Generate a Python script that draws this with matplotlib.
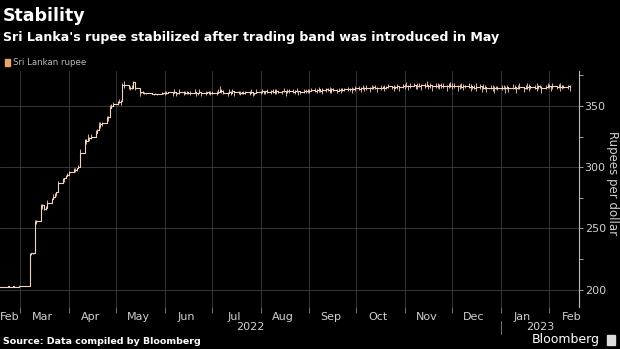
import matplotlib.dates as mdates
import matplotlib.pyplot as plt
import matplotlib.transforms as mtransforms
from matplotlib.ticker import MultipleLocator
import pandas as pd
import numpy as np

# Daily closes (rupees per dollar), business days, by month
close_by_month = {
    "2022-02": [202.4, 202.5, 202.5, 202.6, 202.5, 202.5, 202.6, 202.5, 202.6],
    "2022-03": [202.6, 202.7, 202.8, 202.9,
                229.0, 230.0, 230.0, 255.0, 256.0,
                268.0, 269.0, 266.0, 267.0, 271.0,
                274.0, 276.0, 278.0, 279.5, 287.0,
                290.0, 291.0, 293.0, 293.5],
    "2022-04": [296.0,
                297.5, 298.0, 299.0, 300.0, 312.0,
                322.0, 321.0, 324.0, 324.0, 325.0,
                328.0, 330.0, 334.0, 335.0, 336.0,
                340.0, 341.0, 348.0, 350.0, 352.0],
    "2022-05": [353.0, 353.5, 354.0, 367.0, 367.0,
                365.0, 365.0, 365.0, 369.5, 365.0,
                361.5, 361.5, 361.0, 360.5, 360.5,
                360.5, 360.0, 360.0, 360.0, 360.0,
                360.5, 360.5],
    "2022-06": [361.0, 360.5, 361.5,
                360.5, 361.5, 360.5, 361.0, 361.5,
                361.0, 360.5, 361.5, 360.5, 361.0,
                361.5, 360.5, 361.0, 361.5, 360.5,
                361.0, 361.5, 360.5, 361.0],
    "2022-07": [360.5,
                361.0, 361.5, 363.0, 362.5, 361.0,
                360.5, 361.5, 361.0, 362.0, 361.5,
                360.5, 361.0, 361.5, 360.5, 361.5,
                361.0, 361.5, 360.5, 361.0, 361.5],
    "2022-08": [361.5, 362.0, 361.5, 362.5, 361.5,
                362.0, 361.5, 362.5, 362.0, 361.5,
                362.0, 362.5, 361.5, 362.0, 362.5,
                361.5, 362.0, 362.5, 362.0, 361.5,
                362.0, 362.5, 362.0],
    "2022-09": [362.5, 363.0,
                362.5, 363.0, 363.5, 362.5, 363.0,
                363.5, 363.0, 362.5, 363.5, 363.0,
                362.5, 363.0, 363.5, 363.0, 364.0,
                363.5, 364.0, 363.5, 364.0, 364.5],
    "2022-10": [364.0, 364.5, 365.0, 364.5, 365.0,
                364.5, 365.0, 365.5, 365.0, 364.5,
                365.0, 365.5, 365.0, 365.5, 366.0,
                365.5, 365.0, 365.5, 366.0, 365.5,
                366.0],
    "2022-11": [366.0, 366.5, 366.0, 366.5,
                367.0, 366.5, 366.0, 366.5, 367.0,
                366.5, 367.0, 366.5, 367.0, 366.5,
                366.0, 366.5, 367.0, 366.5, 366.0,
                366.5, 367.0, 366.5],
    "2022-12": [366.5, 366.0,
                366.5, 366.0, 365.5, 366.0, 366.5,
                365.5, 366.0, 365.5, 365.0, 365.5,
                366.0, 365.5, 365.0, 365.5, 364.5,
                365.0, 364.5, 365.0, 364.5, 365.0],
    "2023-01": [365.0, 364.5, 365.0, 365.5, 364.5,
                365.0, 365.5, 364.5, 365.0, 365.5,
                364.5, 365.0, 365.5, 366.0, 365.5,
                365.0, 365.5, 366.0, 365.5, 365.0,
                365.5, 366.0],
    "2023-02": [366.0, 365.5, 366.0,
                365.5, 366.0, 365.5, 366.0, 365.5,
                366.0, 365.5],
}

# Intraday range above / below the close
tick_up = [0, 0, 0, 0, 0, 0, 0, 0, 0,
           0, 0, 0, 0, 1, 0, 0, 2, 1, 2, 1, 0, 1, 2, 1, 2, 1, 0, 2, 1, 0, 1, 2,
           1, 2, 1, 0, 2, 3, 1, 2, 3, 1, 2, 2, 1, 3, 2, 1, 2, 1, 3, 2, 1,
           1, 2, 1, 2, 3, 2, 1, 2, 1, 2, 1, 0, 1, 1, 0, 0, 1, 0, 1, 0, 1, 0,
           1, 2, 0, 1, 2, 1, 0, 2, 1, 2, 1, 0, 1, 2, 1, 0, 2, 1, 1, 0, 2, 1,
           2, 1, 2, 3, 1, 2, 1, 2, 1, 2, 1, 2, 1, 0, 2, 1, 1, 2, 1, 0, 2,
           1, 2, 1, 0, 2, 1, 2, 1, 2, 1, 0, 2, 1, 2, 1, 2, 1, 2, 0, 1, 2, 1, 2,
           1, 2, 2, 1, 2, 1, 2, 1, 2, 3, 1, 2, 1, 2, 1, 2, 1, 2, 1, 2, 1, 2,
           2, 1, 2, 1, 2, 1, 2, 1, 2, 1, 2, 1, 2, 1, 2, 1, 2, 1, 2, 1, 2,
           2, 3, 1, 2, 2, 1, 3, 2, 1, 2, 3, 1, 2, 1, 3, 2, 1, 2, 3, 1, 2, 3,
           2, 3, 1, 2, 3, 2, 1, 3, 2, 1, 2, 3, 2, 1, 3, 2, 1, 2, 3, 1, 2, 1,
           2, 3, 1, 2, 1, 3, 2, 1, 2, 3, 1, 2, 3, 2, 1, 2, 3, 1, 2, 1, 2, 3,
           2, 1, 3, 1, 2, 3, 1, 2, 1, 2]
tick_down = [0, 0, 0, 0, 0, 0, 0, 0, 0,
             0, 0, 0, 0, 14, 2, 1, 3, 2, 2, 3, 1, 2, 1, 2, 1, 2, 3, 1, 2, 3, 1, 0,
             2, 1, 2, 2, 1, 4, 3, 2, 1, 3, 2, 3, 2, 1, 3, 2, 1, 3, 2, 1, 2,
             2, 1, 3, 4, 2, 1, 2, 1, 3, 2, 3, 1, 0, 1, 1, 0, 0, 1, 0, 1, 0, 1,
             2, 1, 1, 2, 1, 2, 1, 2, 2, 1, 2, 1, 2, 1, 2, 2, 1, 2, 2, 1, 1, 2,
             1, 2, 1, 1, 2, 1, 2, 1, 2, 1, 3, 1, 2, 2, 1, 2, 2, 1, 2, 2, 1,
             2, 1, 2, 3, 1, 2, 1, 3, 2, 1, 2, 1, 3, 1, 2, 1, 2, 1, 3, 2, 1, 2, 1,
             2, 1, 1, 2, 2, 1, 3, 2, 1, 2, 3, 1, 2, 1, 3, 1, 2, 1, 2, 3, 1, 2,
             1, 3, 1, 2, 2, 3, 1, 2, 1, 3, 2, 1, 3, 2, 1, 2, 3, 1, 2, 3, 1,
             2, 1, 3, 2, 1, 3, 2, 1, 4, 2, 1, 3, 2, 4, 1, 2, 3, 2, 1, 4, 2, 1,
             3, 1, 4, 2, 1, 3, 2, 1, 4, 2, 1, 3, 2, 4, 1, 2, 3, 1, 2, 4, 1, 2,
             2, 1, 4, 2, 3, 1, 2, 4, 1, 2, 3, 1, 2, 4, 2, 1, 3, 2, 1, 4, 2, 1,
             1, 3, 2, 2, 1, 3, 2, 1, 2, 3]

month_labels = ["Feb", "Mar", "Apr", "May", "Jun", "Jul", "Aug", "Sep",
                "Oct", "Nov", "Dec", "Jan", "Feb"]
year_labels = ["2022", "2023"]
y_ticks = [200, 250, 300, 350]

# Build the date index month by month
dates, close = [], []
for month, vals in close_by_month.items():
    start = pd.Timestamp(month + "-01")
    if month == "2022-02":
        start = pd.Timestamp("2022-02-16")
    days = pd.bdate_range(start, start + pd.offsets.MonthEnd(0))[: len(vals)]
    dates.extend(days)
    close.extend(vals)
dates = pd.DatetimeIndex(dates)
close = np.array(close)
n = len(close)
hi = close + np.array(tick_up[:n])
lo = close - np.array(tick_down[:n])

BG = "black"
LINE = "#f2d2c0"
GRID = "#3e3e3e"
TXT = "#d0d0d0"

fig = plt.figure(figsize=(6.2, 3.49), dpi=100, facecolor=BG)
ax = fig.add_axes([0.0, 0.121, 0.934, 0.676], facecolor=BG)

x0 = pd.Timestamp("2022-02-16")
x1 = pd.Timestamp("2023-02-20")

ax.vlines(dates, lo, hi, color=LINE, linewidth=0.6, zorder=3)
ax.step(dates, close, where="post", color=LINE, linewidth=0.8, zorder=3)

ax.set_xlim(x0, x1)
ax.set_ylim(186, 378.7)

# Month boundaries as major ticks, labels at mid-month
month_starts = pd.date_range("2022-03-01", "2023-02-01", freq="MS")
ax.set_xticks(month_starts)
ax.set_xticklabels([])
mids = [pd.Timestamp("2022-02-22")] + [d + pd.Timedelta(days=14) for d in month_starts]
ax.set_xticks(mids, minor=True)
ax.set_xticklabels(month_labels, minor=True)
ax.tick_params(axis="x", which="major", length=4, color="#888888", width=0.6)
ax.tick_params(axis="x", which="minor", length=0, pad=4, labelsize=8, labelcolor=TXT)

# Right-hand y axis
ax.yaxis.tick_right()
ax.set_yticks(y_ticks)
ax.yaxis.set_minor_locator(MultipleLocator(25))
ax.tick_params(axis="y", which="major", length=3, color="#bbbbbb", width=0.6,
               labelsize=8, labelcolor=TXT, pad=1)
ax.tick_params(axis="y", which="minor", length=3, color="#bbbbbb", width=0.6)
fig.text(612 / 620, 1 - 183 / 349, "Rupees per dollar", rotation=-90, fontsize=8.5,
         color=TXT, ha="center", va="center")

ax.grid(which="major", axis="both", color=GRID, linewidth=0.6)
for side in ["top", "left", "bottom"]:
    ax.spines[side].set_visible(False)
ax.spines["right"].set_color("#bbbbbb")
ax.spines["right"].set_linewidth(0.8)

# Year labels and separator
trans = mtransforms.blended_transform_factory(ax.transData, fig.transFigure)
jan1 = pd.Timestamp("2023-01-01")
ax.text(x0 + (jan1 - x0) / 2, 1 - 327 / 349, year_labels[0], transform=trans,
        ha="center", va="center", fontsize=8, color=TXT)
ax.text(jan1 + (x1 - jan1) / 2, 1 - 327 / 349, year_labels[1], transform=trans,
        ha="center", va="center", fontsize=8, color=TXT)
ax.plot([jan1, jan1], [1 - 321 / 349, 1 - 334 / 349], transform=trans,
        color="#888888", linewidth=0.6, clip_on=False)

# Titles, legend, footer
fig.text(0.005, 1 - 16 / 349, "Stability", fontsize=12.5, fontweight="bold",
         color="white", va="center")
fig.text(0.005, 1 - 38 / 349, "Sri Lanka's rupee stabilized after trading band was introduced in May",
         fontsize=9.1, fontweight="bold", color="white", va="center")
fig.patches.append(plt.Rectangle((5 / 620, 1 - 66 / 349), 5 / 620, 7 / 349,
                                 transform=fig.transFigure, color="#e9a46e"))
fig.text(13 / 620, 1 - 62.5 / 349, "Sri Lankan rupee", fontsize=6.2, color="#bbbbbb",
         va="center")
fig.text(0.005, 1 - 341 / 349, "Source: Data compiled by Bloomberg", fontsize=6.8,
         fontweight="bold", color="white", va="center")
fig.text(600 / 620, 1 - 340 / 349, "Bloomberg", fontsize=9, color="white",
         va="center", ha="right")
fig.patches.append(plt.Rectangle((607 / 620, 1 - 345 / 349), 8 / 620, 10 / 349,
                                 transform=fig.transFigure, color="#dddddd"))

fig.savefig("out.png", dpi=100, facecolor=BG)
